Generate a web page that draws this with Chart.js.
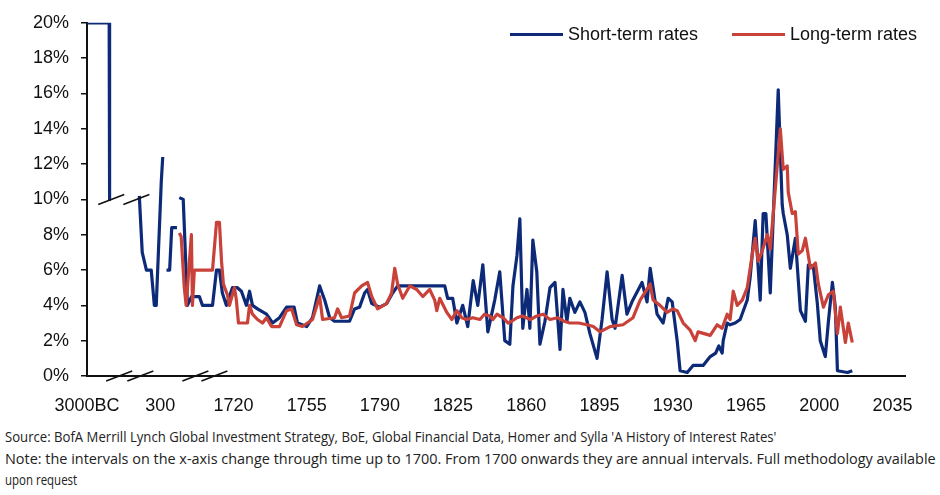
<!DOCTYPE html>
<html>
<head>
<meta charset="utf-8">
<title>Short and long-term interest rates</title>
<script src="https://cdn.jsdelivr.net/npm/chart.js@4.4.0/dist/chart.umd.min.js"></script>
<style>
  body { margin: 0; background: #fff; width: 940px; height: 495px; overflow: hidden; }
  #wrap { position: relative; width: 940px; height: 420px; }
  #legend { position: absolute; top: 23px; left: 510px; font-family: 'Liberation Sans', Arial, sans-serif; font-size: 18px; color: #111; white-space: nowrap; }
  #legend .item { position: absolute; top: 0; display: flex; align-items: center; height: 22px; }
  #legend .swatch { display: inline-block; width: 53px; height: 3px; margin-right: 5px; }
  .notes { position: absolute; left: 5px; font-family: 'Open Sans', sans-serif; font-size: 14.5px; color: #222; white-space: nowrap; transform-origin: left top; }
</style>
</head>
<body>
<div id="wrap">
  <canvas id="ratesChart" width="940" height="420"></canvas>
  <div id="legend"></div>
</div>
<div class="notes" data-width="771" style="top:427px">Source: BofA Merrill Lynch Global Investment Strategy, BoE, Global Financial Data, Homer and Sylla 'A History of Interest Rates'</div>
<div class="notes" data-width="931" style="top:449px">Note: the intervals on the x-axis change through time up to 1700. From 1700 onwards they are annual intervals. Full methodology available</div>
<div class="notes" data-width="72" style="top:470px">upon request</div>
<script>
// x positions: before 1700 the axis is compressed (3000BC at 1650, 300 at 1685), annual after that
const xTickValues = [1650, 1685, 1720, 1755, 1790, 1825, 1860, 1895, 1930, 1965, 2000, 2035];
const xTickLabels = ['3000BC', '300', '1720', '1755', '1790', '1825', '1860', '1895', '1930', '1965', '2000', '2035'];

// short-term rates, % (null = gap in the record)
const shortYears = [1650, 1660.6, 1660.8, 1668, 1675, 1676.4, 1678.4, 1680.7, 1682.2, 1683.1, 1685.5, 1686.2, 1687,
  1688, 1689.5, 1690.5, 1693, 1693.6, 1694.1, 1696, 1698, 1700, 1703.7, 1705.2, 1710, 1711.9, 1713.3, 1714.7,
  1716.6, 1719.5, 1721.9, 1723.8, 1726.2, 1727.7, 1729.1, 1731.5, 1735.8, 1738.7, 1742, 1745.4, 1749, 1750.6,
  1755, 1757.8, 1761.2, 1763.6, 1766, 1768.3, 1775.5, 1777.9, 1780.3, 1782.7, 1784.1, 1786.1, 1789.9, 1793.2,
  1796.1, 1798.5, 1821, 1822.4, 1824.8, 1826.8, 1829.6, 1832, 1834.6, 1836.8, 1839.2, 1841.6, 1844.9, 1847.3,
  1849.7, 1852.1, 1853.6, 1855.5, 1856.9, 1858.3, 1860.3, 1861.7, 1863.1, 1865, 1866.5, 1868.9, 1871.3, 1873.7,
  1876.1, 1877.5, 1879.4, 1880.8, 1883.2, 1885.6, 1888, 1890.4, 1893.8, 1896.2, 1898.6, 1901, 1902.4, 1905.8,
  1908.1, 1910.5, 1915.3, 1917.7, 1919.2, 1922.5, 1925.4, 1927.8, 1929.7, 1932.1, 1933.5, 1936.9, 1939.7, 1944.5,
  1947.9, 1950.5, 1952, 1953.6, 1954.1, 1956, 1957.4, 1959.8, 1962.2, 1965.6, 1967, 1969.4, 1971.8, 1973.2,
  1974.5, 1976.6, 1980.4, 1982.3, 1982.8, 1984.7, 1986.2, 1988.6, 1991, 1993.4, 1994.8, 1997.2, 1999.1, 2000.5,
  2002.9, 2004.4, 2006.3, 2007.7, 2008.7, 2013.5, 2015.8];
const shortRates = [20, 20, 10, null, 10.2, 7, 6, 6, 4, 4, 11, 12.4, null,
  6, 6, 8.4, 8.4, null, 10.1, 10, 4, 4.5, 4.5, 4, 4, 6, 6, 4.7,
  4, 5, 5, 4.8, 4, 4.8, 4, 3.8, 3.5, 3, 3.3, 3.9, 3.9, 3,
  2.8, 3.3, 5.1, 4.3, 3.3, 3.1, 3.1, 3.8, 3.9, 4.7, 4.9, 4.1, 3.9, 4.1,
  4.7, 5.1, 5.1, 4.4, 4.4, 3.0, 4.0, 2.8, 5.4, 4.0, 6.3, 2.5, 4.3, 5.9,
  2.0, 1.8, 5.1, 6.8, 8.9, 2.7, 4.9, 2.7, 7.7, 5.9, 1.8, 3.1, 5.0, 5.3,
  1.5, 4.9, 3.1, 4.4, 3.6, 4.2, 3.6, 2.4, 1.0, 3.2, 5.9, 3.2, 2.7, 5.7,
  3.5, 4.2, 5.3, 4.2, 6.1, 3.5, 3.0, 4.4, 4.2, 2.0, 0.3, 0.2, 0.6, 0.6,
  1.1, 1.3, 1.7, 1.3, 2.0, 3.0, 2.9, 3.0, 3.2, 4.3, 5.6, 8.8, 4.3, 9.2,
  9.2, 4.7, 16.2, 9.7, 9.2, 8.0, 6.1, 7.8, 3.7, 3.1, 6.3, 6.2, 4.1, 2.0,
  1.1, 3.1, 5.3, 3.9, 0.3, 0.2, 0.3];

// long-term rates, %
const longYears = [1694.1, 1695, 1696.5, 1697.4, 1699.9, 1700.4, 1701.3, 1710, 1711.9, 1713.3, 1714.3, 1715.2,
  1717.1, 1718.1, 1719.5, 1720.5, 1721.4, 1722.4, 1726.7, 1727.7, 1729.1, 1731.5, 1733.9, 1735.8, 1738.2, 1742,
  1745.4, 1747.8, 1750.2, 1753, 1757.8, 1761.2, 1762.6, 1768.3, 1769.8, 1771.7, 1775.5, 1777.9, 1781.3, 1784.1,
  1786.1, 1788.9, 1793.2, 1795.6, 1797.1, 1798.5, 1800.9, 1804.3, 1807.6, 1810.5, 1813.8, 1816.2, 1817.2, 1818.6,
  1822, 1824.4, 1826.8, 1829.1, 1831.5, 1834.4, 1837.8, 1840, 1842.5, 1844, 1846, 1847.3, 1849, 1851.2, 1853,
  1855.5, 1858, 1860, 1862, 1865, 1868, 1871.3, 1875, 1878, 1880.8, 1885, 1889, 1892, 1895.2, 1900, 1906.2,
  1911, 1914.4, 1919.2, 1920.6, 1923.9, 1927.3, 1930, 1932.1, 1935, 1938.3,
  1940.7, 1942.1, 1947.9, 1951.2, 1953.6, 1956, 1957.4, 1958.9, 1960.8, 1963.2, 1965.6, 1968, 1969.4, 1970.8,
  1972.8, 1975.2, 1976.6, 1981.4, 1982.8, 1984.7, 1985.2, 1987.1, 1988.6, 1990, 1991.9, 1993.4, 1995.8, 1998.2,
  1999.6, 2002, 2004.4, 2006.7, 2008.7, 2010.1, 2012.5, 2013.9, 2015.8];
const longRates = [8.1, 7.9, 5, 4, 8, 4, 6, 6, 8.7, 8.7, 6.5, 5.2,
  4.6, 4, 4.6, 5, 4.3, 3, 3, 4, 3.5, 3.2, 3, 3.3, 2.8, 2.8,
  3.7, 3.8, 2.9, 2.8, 3.2, 4.5, 3.2, 3.3, 3.8, 3.3, 3.4, 4.7, 5.1, 5.3,
  4.5, 3.8, 4.1, 4.7, 6.1, 5.2, 4.4, 5.1, 4.9, 4.5, 4.9, 4.3, 3.7, 4.4,
  3.6, 3.2, 3.7, 3.3, 3.2, 3.3, 3.2, 3.5, 3.4, 3.2, 3.5, 3.4, 3.3, 3.0, 3.1,
  3.3, 3.4, 3.3, 3.2, 3.4, 3.5, 3.2, 3.3, 3.1, 3.0, 3.0, 2.9, 2.8, 2.5, 2.8, 2.9,
  3.3, 4.3, 5.2, 4.3, 4.0, 3.6, 3.8, 3.7, 3.0, 2.6,
  2.0, 2.5, 2.3, 2.9, 2.7, 3.5, 3.2, 4.8, 4.0, 4.3, 5.0, 6.9, 7.8, 6.5,
  7.1, 8.0, 7.2, 14.0, 11.7, 11.9, 10.4, 9.2, 9.3, 6.9, 7.1, 7.8, 6.1, 6.4,
  5.2, 3.9, 4.6, 4.8, 2.4, 3.9, 1.9, 3.0, 1.9];

// where the compressed axis and the early series are cut
const axisBreaks = [1665.4, 1675.5, 1701.8, 1710.9];
const lineBreaks = [1661.6, 1673.6];
const lineBreakLevel = 10;

const blue = '#0d2a78';
const red = '#c8423a';
const font = { family: "'Liberation Sans', Arial, sans-serif", size: 18 };

// slanted double-cut marks on the axis and on the early series
const breakMarks = {
  id: 'breakMarks',
  afterDatasetsDraw(chart) {
    const { ctx, scales: { x, y } } = chart;
    const slash = (cx, cy) => {
      ctx.beginPath();
      ctx.moveTo(cx - 13, cy + 5);
      ctx.lineTo(cx + 13, cy - 5);
      ctx.stroke();
    };
    ctx.save();
    ctx.strokeStyle = '#111';
    ctx.lineWidth = 1.6;
    axisBreaks.forEach(v => slash(x.getPixelForValue(v), y.getPixelForValue(0)));
    lineBreaks.forEach(v => slash(x.getPixelForValue(v), y.getPixelForValue(lineBreakLevel)));
    ctx.restore();
  }
};

const ctx = document.getElementById('ratesChart').getContext('2d');
const ratesChart = new Chart(ctx, {
  type: 'line',
  data: {
    datasets: [{
      label: 'Short-term rates',
      data: shortYears.map((x, i) => ({ x, y: shortRates[i] })),
      borderColor: blue,
      backgroundColor: blue,
      order: 2
    }, {
      label: 'Long-term rates',
      data: longYears.map((x, i) => ({ x, y: longRates[i] })),
      borderColor: red,
      backgroundColor: red,
      order: 1
    }]
  },
  options: {
    responsive: false,
    animation: false,
    layout: { padding: { left: 0, right: 35, top: 20, bottom: 0 } },
    elements: {
      point: { radius: 0 },
      line: { borderWidth: 3.2, tension: 0, borderJoinStyle: 'round' }
    },
    plugins: { legend: { display: false }, tooltip: { enabled: false } },
    scales: {
      x: {
        type: 'linear',
        min: 1650,
        max: 2041,
        afterBuildTicks: s => { s.ticks = xTickValues.map(v => ({ value: v })); },
        afterFit: s => { s.height = 44; },
        grid: { display: false, drawTicks: false },
        border: { color: '#111', width: 2 },
        ticks: {
          callback: (v, i) => xTickLabels[i],
          color: '#111', font, padding: 19, maxRotation: 0, autoSkip: false
        }
      },
      y: {
        min: 0,
        max: 20,
        afterFit: s => { s.width = 87; },
        grid: { drawOnChartArea: false, tickLength: 6, color: '#111', lineWidth: 1.5 },
        border: { color: '#111', width: 2 },
        ticks: { stepSize: 2, callback: v => v + '%', color: '#111', font, padding: 12 }
      }
    }
  },
  plugins: [breakMarks]
});

// legend drawn beside the plot's top right corner
const legend = document.getElementById('legend');
[0, 222].forEach((left, i) => {
  const ds = ratesChart.data.datasets[i];
  const item = document.createElement('span');
  item.className = 'item';
  item.style.left = left + 'px';
  item.innerHTML = '<span class="swatch" style="background:' + ds.borderColor + '"></span>' + ds.label;
  legend.appendChild(item);
});

// footnotes are set in a narrow face: squeeze each line to its set width
document.querySelectorAll('.notes').forEach(el => {
  el.style.transform = 'scaleX(' + (el.dataset.width / el.scrollWidth) + ')';
});
</script>
</body>
</html>
